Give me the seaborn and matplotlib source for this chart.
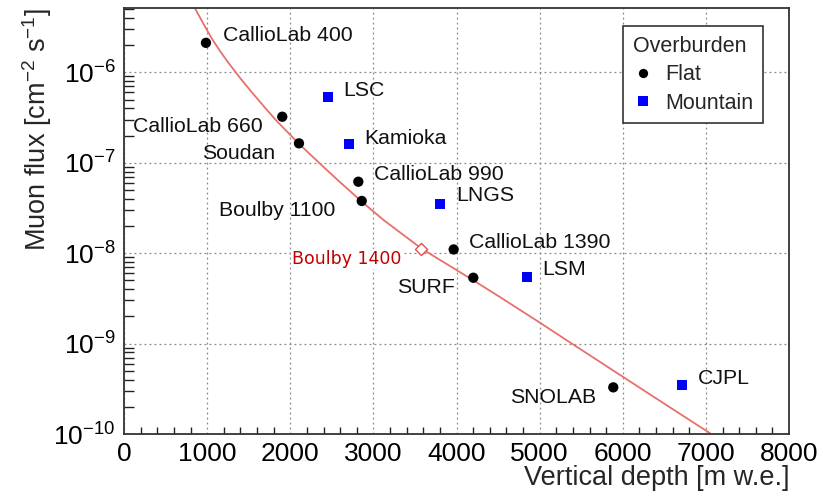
import numpy as np
import pandas as pd
import matplotlib
matplotlib.use("Agg")
import matplotlib.pyplot as plt
import seaborn as sns
from matplotlib.ticker import MultipleLocator, LogLocator, LogFormatterMathtext, NullFormatter

# ---------------- data ----------------
labs = ["CallioLab 400", "CallioLab 660", "Soudan", "CallioLab 990", "Boulby 1100",
        "CallioLab 1390", "SURF", "SNOLAB", "LSC", "Kamioka", "LNGS", "LSM", "CJPL"]
depth = [986, 1904, 2105, 2819, 2860, 3966, 4202, 5886, 2451, 2707, 3802, 4852, 6716]
flux = [2.12e-6, 3.23e-7, 1.64e-7, 6.17e-8, 3.78e-8, 1.10e-8, 5.35e-9, 3.28e-10,
        5.3e-7, 1.6e-7, 3.47e-8, 5.48e-9, 3.48e-10]
overburden = ["Flat"] * 8 + ["Mountain"] * 5

boulby_name = "Boulby 1400"
boulby_depth = [3573]
boulby_flux = [1.11e-8]

# fitted depth-intensity curve
curve_depth = [854, 955, 1055, 1155, 1255, 1395, 1536, 1683, 1829, 2105, 2358, 2599,
               2860, 3119, 3581, 4202, 4523, 5005, 5345, 6007, 6532, 7050]
curve_flux = [5.10e-6, 3.45e-6, 2.38e-6, 1.72e-6, 1.28e-6, 8.7e-7, 6.05e-7, 4.2e-7,
              2.95e-7, 1.62e-7, 9.77e-8, 6.10e-8, 3.72e-8, 2.34e-8, 1.12e-8, 5.01e-9,
              3.27e-9, 1.70e-9, 1.06e-9, 4.26e-10, 2.07e-10, 1.02e-10]

xticks = [0, 1000, 2000, 3000, 4000, 5000, 6000, 7000, 8000]

df = pd.DataFrame({"lab": labs, "depth": depth, "flux": flux, "Overburden": overburden})
curve = pd.DataFrame({"depth": curve_depth, "flux": curve_flux})

# ---------------- style ----------------
sns.set_theme(style="white")
plt.rcParams["font.family"] = ["Liberation Sans", "DejaVu Sans"]
plt.rcParams["mathtext.fontset"] = "custom"
plt.rcParams["mathtext.rm"] = "Liberation Sans"
plt.rcParams["mathtext.it"] = "Liberation Sans"
plt.rcParams["mathtext.bf"] = "Liberation Sans:bold"

fig = plt.figure(figsize=(8.36, 4.97), dpi=100)
ax = fig.add_axes([124 / 836, 1 - 434 / 497, 665 / 836, 426 / 497])

sns.lineplot(data=curve, x="depth", y="flux", ax=ax, color="#e8706a", lw=1.3,
             sort=False, legend=False, zorder=2)

sns.scatterplot(data=df, x="depth", y="flux", hue="Overburden", style="Overburden",
                palette={"Flat": "black", "Mountain": "#0000ff"},
                markers={"Flat": "o", "Mountain": "s"}, s=55, linewidth=0,
                ax=ax, zorder=4)

ax.scatter(boulby_depth, boulby_flux, marker="D", s=38, facecolor="white",
           edgecolor="#e05050", linewidth=1.0, zorder=3)

ax.set_yscale("log")
ax.set_xlim(0, 8000)
ax.set_ylim(1e-10, 5.15e-6)

# label offsets in points (dx, dy, ha)
offsets = {
    "CallioLab 400": (12, 5, "left"),
    "CallioLab 660": (-14, -7, "right"),
    "Soudan": (-17, -7, "right"),
    "CallioLab 990": (11, 5, "left"),
    "Boulby 1100": (-19, -7, "right"),
    "CallioLab 1390": (11, 5, "left"),
    "SURF": (-13, -7, "right"),
    "SNOLAB": (-12, -7, "right"),
    "LSC": (11, 5, "left"),
    "Kamioka": (11, 4, "left"),
    "LNGS": (12, 6, "left"),
    "LSM": (11, 5, "left"),
    "CJPL": (11, 5, "left"),
}
for lab, x, y in zip(labs, depth, flux):
    dx, dy, ha = offsets[lab]
    ax.annotate(lab, (x, y), xytext=(dx, dy), textcoords="offset points",
                ha=ha, va="center", fontsize=15.3, color="#111111", zorder=5)
ax.annotate(boulby_name, (boulby_depth[0], boulby_flux[0]), xytext=(-14, -7),
            textcoords="offset points", ha="right", va="center", fontsize=12.5,
            color="#c00000", family=["DejaVu Sans"], zorder=5,
            bbox=dict(boxstyle="square,pad=0.05", fc="white", ec="none"))

# ticks
ax.set_xticks(xticks)
ax.set_xticklabels([str(t) for t in xticks])
ax.xaxis.set_minor_locator(MultipleLocator(200))
ax.xaxis.set_minor_formatter(NullFormatter())
ax.yaxis.set_major_locator(LogLocator(base=10, numticks=20))
ax.yaxis.set_major_formatter(LogFormatterMathtext())
ax.yaxis.set_minor_locator(LogLocator(base=10, subs=np.arange(2, 10), numticks=20))
ax.yaxis.set_minor_formatter(NullFormatter())
ax.tick_params(axis="x", which="major", direction="in", length=10, width=1.0,
               labelsize=19, pad=6, colors="#222222", labelcolor="black")
ax.tick_params(axis="x", which="minor", direction="in", length=5, width=1.0,
               colors="#222222", bottom=True)
ax.tick_params(axis="y", which="major", direction="in", length=15, width=1.0,
               labelsize=19, pad=6, colors="#222222", labelcolor="black")
ax.tick_params(axis="y", which="minor", direction="in", length=7, width=1.0,
               colors="#222222", left=True)

ax.grid(True, which="major", linestyle=(0, (1.5, 2.5)), color="#888888", lw=0.9)
for sp in ax.spines.values():
    sp.set_color("#333333")
    sp.set_linewidth(1.3)

ax.set_xlabel("Vertical depth [m w.e.]", fontsize=19.5, loc="right")
ax.set_ylabel(r"Muon flux [cm$^{-2}$ s$^{-1}$]", fontsize=19.5, loc="top")
ax.xaxis.set_label_coords(1.0, -0.072)
ax.yaxis.set_label_coords(-0.106, 1.0)

# legend
handles, lbls = ax.get_legend_handles_labels()
keep = [(h, l) for h, l in zip(handles, lbls) if l in ("Flat", "Mountain")]
leg = ax.legend([h for h, _ in keep], [l for _, l in keep], title="Overburden",
                loc="upper right", bbox_to_anchor=(0.961, 0.958), borderaxespad=0,
                fontsize=15.5, title_fontsize=15.5, frameon=True, fancybox=False,
                edgecolor="#333333", framealpha=1, borderpad=0.45, handletextpad=0.6,
                labelspacing=0.35, markerscale=0.9, handlelength=0.9)
leg.get_frame().set_linewidth(1.2)
leg._legend_box.align = "left"

fig.savefig("out.png", dpi=100)
